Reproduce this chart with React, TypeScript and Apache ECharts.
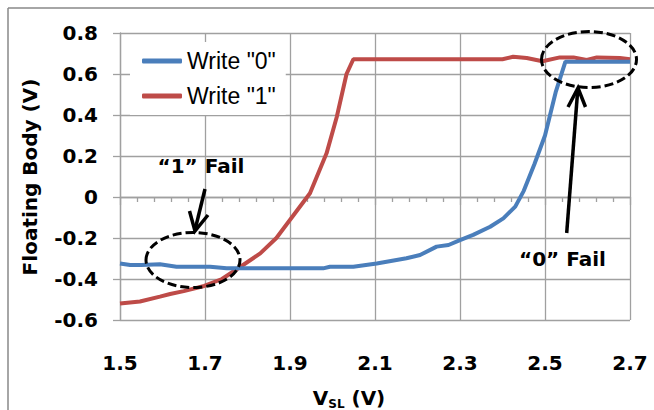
import React, { useEffect, useRef } from "react";
import * as echarts from "echarts";

const write0X = [1.5, 1.524, 1.55, 1.594, 1.633, 1.712, 1.751, 1.8, 1.85, 1.9, 1.95, 1.978, 1.994, 2.049, 2.104, 2.174, 2.206, 2.245, 2.273, 2.3, 2.331, 2.371, 2.402, 2.43, 2.45, 2.475, 2.5, 2.525, 2.548, 2.6, 2.65, 2.7];
const write0Y = [-0.324, -0.332, -0.332, -0.328, -0.34, -0.34, -0.348, -0.348, -0.348, -0.348, -0.348, -0.348, -0.34, -0.34, -0.324, -0.299, -0.283, -0.242, -0.234, -0.21, -0.185, -0.145, -0.104, -0.047, 0.03, 0.16, 0.3, 0.51, 0.66, 0.66, 0.66, 0.66];

const write1X = [1.5, 1.547, 1.594, 1.618, 1.65, 1.698, 1.74, 1.78, 1.83, 1.868, 1.947, 1.986, 2.01, 2.033, 2.049, 2.2, 2.4, 2.425, 2.457, 2.494, 2.535, 2.567, 2.598, 2.622, 2.676, 2.7];
const write1Y = [-0.519, -0.51, -0.486, -0.473, -0.459, -0.434, -0.4, -0.345, -0.275, -0.2, 0.018, 0.213, 0.39, 0.6, 0.672, 0.672, 0.672, 0.684, 0.678, 0.662, 0.681, 0.681, 0.668, 0.681, 0.678, 0.672];

const seriesNames = ['Write "0"', 'Write "1"'];
const seriesColors = ["#4A7EBB", "#BE4B48"];
const yAxisTitle = "Floating Body (V)";
const fail1Label = "\u201c1\u201d Fail";
const fail0Label = "\u201c0\u201d Fail";

const zip = (xs: number[], ys: number[]) => xs.map((x, i) => [x, ys[i]]);

export default function App() {
  const ref = useRef<HTMLDivElement>(null);
  useEffect(() => {
    if (!ref.current) return;
    const chart = echarts.init(ref.current, null, { renderer: "svg" });
    const gridColor = "#a0a0a0";
    const bold = "DejaVu Sans";
    const dash = [9, 4];
    chart.setOption({
      animation: false,
      backgroundColor: "#fff",
      grid: { left: 120, right: 24, top: 33, bottom: 90, outerBoundsMode: "none" },
      legend: {
        left: 130,
        top: 42,
        orient: "vertical",
        backgroundColor: "#fff",
        padding: [7, 10, 7, 12],
        itemGap: 11,
        itemWidth: 40,
        itemHeight: 5,
        itemTextGap: 3,
        icon: "roundRect",
        textStyle: { fontFamily: "Liberation Sans", fontSize: 23, color: "#000", lineHeight: 24 },
        data: seriesNames,
      },
      xAxis: {
        type: "value",
        min: 1.5,
        max: 2.7,
        interval: 0.2,
        axisLine: { show: true, lineStyle: { color: gridColor, width: 1.3 } },
        axisTick: { show: true, length: 8, lineStyle: { color: gridColor, width: 1.3 } },
        minorTick: { show: true, splitNumber: 5, length: 5, lineStyle: { color: gridColor, width: 1.3 } },
        splitLine: { show: true, lineStyle: { color: gridColor, width: 1.3 } },
        axisLabel: {
          margin: 33,
          fontFamily: bold,
          fontWeight: "bold",
          fontSize: 20,
          color: "#000",
          formatter: (v: number) => v.toFixed(1),
        },
      },
      yAxis: {
        type: "value",
        min: -0.6,
        max: 0.8,
        interval: 0.2,
        axisLine: { show: true, lineStyle: { color: gridColor, width: 1.3 } },
        axisTick: { show: true, length: 7, lineStyle: { color: gridColor, width: 1.3 } },
        splitLine: { show: true, lineStyle: { color: gridColor, width: 1.3 } },
        axisLabel: {
          margin: 22,
          fontFamily: bold,
          fontWeight: "bold",
          fontSize: 20,
          color: "#000",
          formatter: (v: number) => (Math.abs(v) < 1e-9 ? "0" : v.toFixed(1)),
        },
      },
      series: [
        {
          name: seriesNames[0],
          type: "line",
          data: zip(write0X, write0Y),
          showSymbol: false,
          symbol: "none",
          color: seriesColors[0],
          lineStyle: { width: 4, color: seriesColors[0] },
          z: 3,
        },
        {
          name: seriesNames[1],
          type: "line",
          data: zip(write1X, write1Y),
          showSymbol: false,
          symbol: "none",
          color: seriesColors[1],
          lineStyle: { width: 4, color: seriesColors[1] },
          z: 2,
        },
      ],
      graphic: [
        { type: "line", shape: { x1: 8, y1: 8, x2: 660, y2: 8 }, style: { stroke: "#888", lineWidth: 1.5 }, z: 100 },
        { type: "line", shape: { x1: 8, y1: 8, x2: 8, y2: 420 }, style: { stroke: "#888", lineWidth: 1.5 }, z: 100 },
        {
          type: "ellipse",
          shape: { cx: 193, cy: 260, rx: 47, ry: 27.5 },
          style: { fill: "none", stroke: "#000", lineWidth: 3, lineDash: dash },
          z: 100,
        },
        {
          type: "ellipse",
          shape: { cx: 589, cy: 59.5, rx: 47.5, ry: 28 },
          style: { fill: "none", stroke: "#000", lineWidth: 3, lineDash: dash },
          z: 100,
        },
        { type: "line", shape: { x1: 205, y1: 189, x2: 195, y2: 230 }, style: { stroke: "#000", lineWidth: 3.5 }, z: 100 },
        {
          type: "polyline",
          shape: { points: [[189.5, 211], [195, 231], [208, 215]] },
          style: { fill: "none", stroke: "#000", lineWidth: 3.5 },
          z: 100,
        },
        { type: "line", shape: { x1: 566.7, y1: 233, x2: 577.8, y2: 89 }, style: { stroke: "#000", lineWidth: 3.5 }, z: 100 },
        {
          type: "polyline",
          shape: { points: [[568, 107], [578, 88], [585.5, 107]] },
          style: { fill: "none", stroke: "#000", lineWidth: 3.5 },
          z: 100,
        },
        {
          type: "text",
          x: 201,
          y: 166,
          style: { text: fail1Label, fontFamily: bold, fontWeight: "bold", fontSize: 20, fill: "#000", align: "center", verticalAlign: "middle" },
          z: 100,
        },
        {
          type: "text",
          x: 562.5,
          y: 259,
          style: { text: fail0Label, fontFamily: bold, fontWeight: "bold", fontSize: 20, fill: "#000", align: "center", verticalAlign: "middle" },
          z: 100,
        },
        {
          type: "text",
          x: 30,
          y: 177,
          rotation: Math.PI / 2,
          style: { text: yAxisTitle, fontFamily: bold, fontWeight: "bold", fontSize: 20, fill: "#000", align: "center", verticalAlign: "middle" },
          z: 100,
        },
        {
          type: "text",
          x: 349,
          y: 397,
          style: {
            text: "{v|V}{s|SL}{v| (V)}",
            align: "center",
            verticalAlign: "middle",
            rich: {
              v: { fontFamily: bold, fontWeight: "bold", fontSize: 20, fill: "#000", color: "#000", verticalAlign: "bottom", lineHeight: 22 },
              s: { fontFamily: bold, fontWeight: "bold", fontSize: 12, fill: "#000", color: "#000", verticalAlign: "bottom", lineHeight: 16, padding: [0, 0, -2, 0] },
            },
          },
          z: 100,
        },
      ],
    });
    return () => chart.dispose();
  }, []);
  return <div ref={ref} style={{ position: "absolute", left: 0, top: 0, width: 654, height: 410 }} />;
}
